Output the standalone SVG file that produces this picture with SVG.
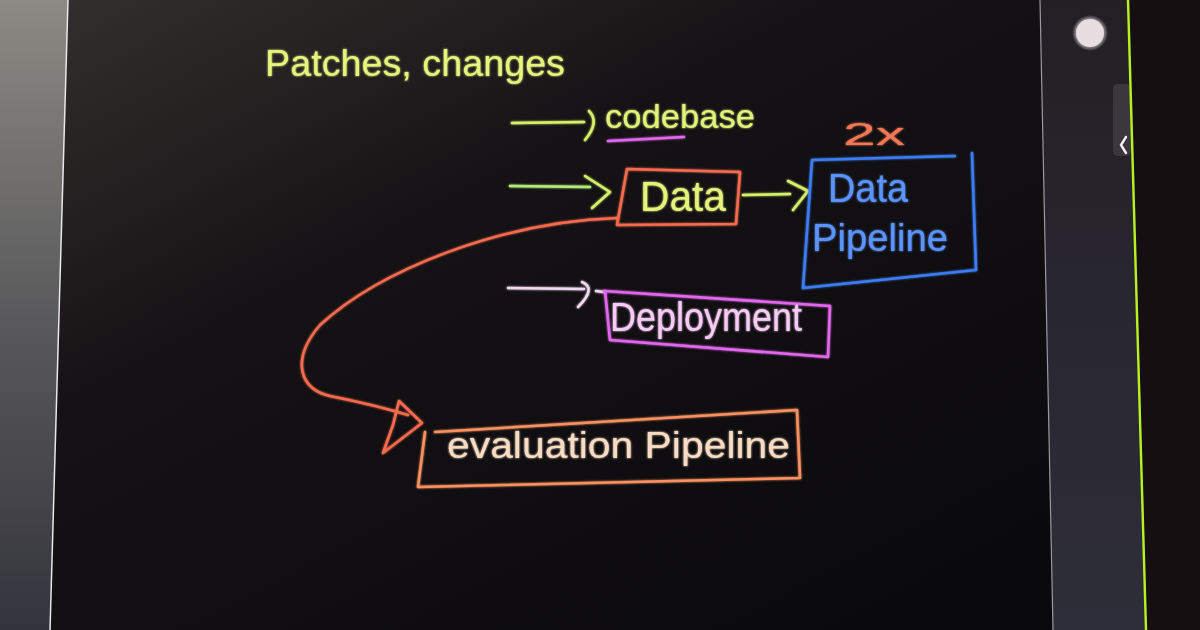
<svg xmlns="http://www.w3.org/2000/svg" width="1200" height="630" viewBox="0 0 1200 630">
<defs>
<linearGradient id="board" x1="0" y1="0" x2="1" y2="1">
<stop offset="0" stop-color="#34322f"/>
<stop offset="0.35" stop-color="#141214"/>
<stop offset="1" stop-color="#08070a"/>
</linearGradient>
<linearGradient id="leftEdge" x1="0" y1="0" x2="0" y2="1">
<stop offset="0" stop-color="#8c8a84"/>
<stop offset="0.5" stop-color="#5a5a5c"/>
<stop offset="1" stop-color="#34343c"/>
</linearGradient>
<linearGradient id="bezel" x1="0" y1="0" x2="0" y2="1">
<stop offset="0" stop-color="#231f24"/>
<stop offset="1" stop-color="#2e2e3a"/>
</linearGradient>
<radialGradient id="dotGlow">
<stop offset="0.6" stop-color="#e2dadc"/>
<stop offset="1" stop-color="#e2dadc" stop-opacity="0"/>
</radialGradient>
<filter id="glow" x="-10%" y="-10%" width="120%" height="120%">
<feGaussianBlur stdDeviation="1.2" result="b"/>
<feMerge><feMergeNode in="b"/><feMergeNode in="SourceGraphic"/></feMerge>
</filter>
</defs>
<style>
.ink{fill:none;stroke-width:2.6;stroke-linecap:round;stroke-linejoin:round}
.hand{font-family:"Liberation Sans","DejaVu Sans",sans-serif;font-weight:normal}
.yg{stroke:#d6f06a}
.gr{stroke:#b2ec78}
.red{stroke:#f66a4e}
.blue{stroke:#3d7cf2}
.mag{stroke:#e266ee}
.pink{stroke:#f2d8f0}
.org{stroke:#f89060}
</style>

<!-- background -->
<rect x="0" y="0" width="1200" height="630" fill="url(#board)"/>
<polygon points="0,0 68,0 50,630 0,630" fill="url(#leftEdge)"/>
<line x1="68" y1="0" x2="50" y2="630" stroke="#e8e8ea" stroke-width="1.5"/>
<polygon points="1040,0 1130,0 1147,630 1053,630" fill="url(#bezel)"/>
<line x1="1040" y1="0" x2="1053" y2="630" stroke="#9a98a0" stroke-width="1.2"/>
<polygon points="1130,0 1200,0 1200,630 1147,630" fill="#160f12"/>
<circle cx="1090" cy="33" r="18" fill="url(#dotGlow)"/>
<circle cx="1090" cy="33" r="14" fill="#e6dee0"/>
<rect x="1113" y="84" width="18" height="72" rx="5" fill="#3a383c"/>
<polyline points="1126,137 1121,145 1126,153" fill="none" stroke="#f2f2f2" stroke-width="2.4" stroke-linecap="round"/>
<line x1="1128" y1="0" x2="1146" y2="630" stroke="#b8f022" stroke-width="2.4"/>

<!-- title -->
<g id="title" filter="url(#glow)">
<text class="hand" x="265" y="76" font-size="36" fill="#e4f47c" textLength="300" lengthAdjust="spacingAndGlyphs">Patches, changes</text>
</g>

<!-- connectors -->
<g id="connectors" filter="url(#glow)">
<g id="arrow-codebase">
<path class="ink yg" d="M512,123 L584,122"/>
<path class="ink yg" d="M589,111 Q600,122 585,140"/>
</g>
<g id="arrow-data">
<path class="ink gr" d="M510,186 L590,187"/>
<path class="ink yg" d="M585,176 L610,192 L592,208"/>
</g>
<g id="arrow-data-pipeline">
<path class="ink yg" d="M743,195 L790,194"/>
<path class="ink yg" d="M788,181 L808,191 L793,210"/>
</g>
<g id="arrow-deployment">
<path class="ink pink" d="M508,288 L584,289"/>
<path class="ink pink" d="M582,282 Q597,288 578,307"/>
<path class="ink pink" d="M596,291 L604,292"/>
</g>
<g id="arrow-evaluation">
<path class="ink red" d="M617,218 C500,222 380,270 320,325 C290,360 300,390 330,396 C360,402 385,408 408,415"/>
<polygon class="ink red" points="399,401 422,423 383,453 393,425"/>
</g>
</g>

<!-- nodes -->
<g id="node-codebase" filter="url(#glow)">
<text class="hand" x="605" y="128" font-size="34" fill="#e0f47a" textLength="150" lengthAdjust="spacingAndGlyphs">codebase</text>
<path class="ink mag" d="M608,141 L684,137"/>
</g>

<g id="node-data" filter="url(#glow)">
<path class="ink red" d="M627,169 L740,172 L736,224 L617,225 Z"/>
<text class="hand" x="640" y="211" font-size="42" fill="#e4f47a" textLength="86" lengthAdjust="spacingAndGlyphs">Data</text>
</g>

<g id="node-data-pipeline" filter="url(#glow)">
<path class="ink blue" d="M812,160 L955,156 M972,153 L976,270 L803,288 L812,160"/>
<text class="hand" x="828" y="202" font-size="40" fill="#5c94ff" textLength="80" lengthAdjust="spacingAndGlyphs">Data</text>
<text class="hand" x="812" y="251" font-size="38" fill="#5c94ff" textLength="136" lengthAdjust="spacingAndGlyphs">Pipeline</text>
<text class="hand" x="843" y="145" font-size="32" fill="#f47856" textLength="62" lengthAdjust="spacingAndGlyphs">2x</text>
</g>

<g id="node-deployment" filter="url(#glow)">
<path class="ink mag" d="M604,291 L830,306 L828,357 L610,340 L605,291"/>
<text class="hand" x="610" y="331" font-size="40" fill="#f6ccf6" textLength="192" lengthAdjust="spacingAndGlyphs">Deployment</text>
</g>

<g id="node-evaluation" filter="url(#glow)">
<path class="ink org" d="M435,432 L797,410 L800,478 L418,487 L425,432"/>
<text class="hand" x="447" y="458" font-size="36" fill="#fadcc4" textLength="343" lengthAdjust="spacingAndGlyphs">evaluation Pipeline</text>
</g>
</svg>
